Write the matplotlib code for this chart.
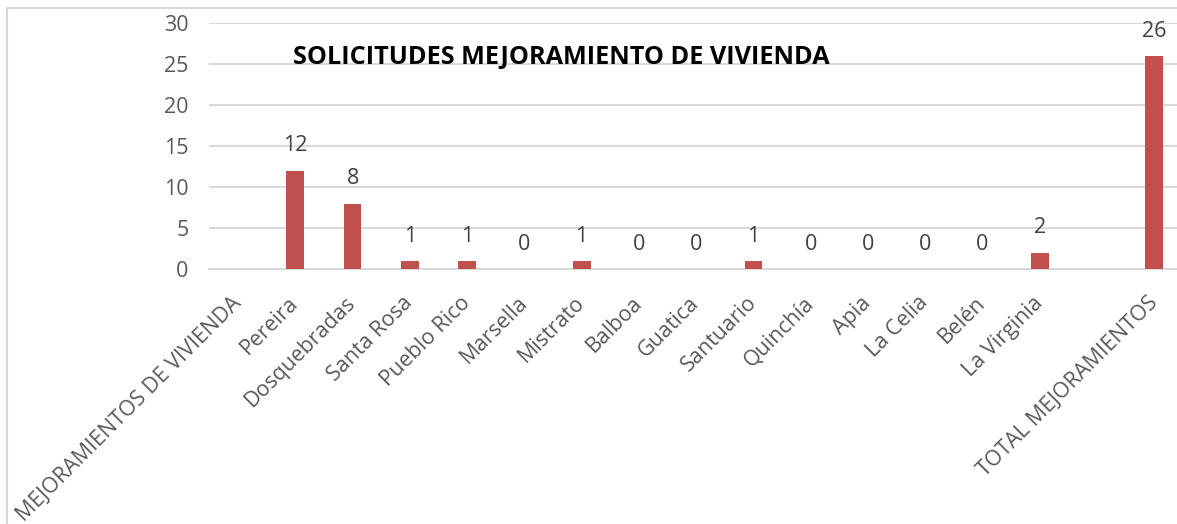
import matplotlib
matplotlib.use("Agg")
import matplotlib.pyplot as plt
import numpy as np

categories = ["MEJORAMIENTOS DE VIVIENDA", "Pereira", "Dosquebradas", "Santa Rosa",
              "Pueblo Rico", "Marsella", "Mistrato", "Balboa", "Guatica", "Santuario",
              "Quinchía", "Apia", "La Celia", "Belén", "La Virginia", "",
              "TOTAL MEJORAMIENTOS"]
values = [None, 12, 8, 1, 1, 0, 1, 0, 0, 1, 0, 0, 0, 0, 2, None, 26]
title = "SOLICITUDES MEJORAMIENTO DE VIVIENDA"
yticks = [0, 5, 10, 15, 20, 25, 30]

plt.rcParams['font.family'] = ['Open Sans', 'DejaVu Sans']

W, H = 1177, 524
fig = plt.figure(figsize=(W / 100, H / 100), dpi=100)
ax = fig.add_axes([209.4 / W, (H - 269.3) / H, (1183 - 209.4) / W, (269.3 - 23.3) / H])

x = np.arange(len(categories))
bars_x = [xi for xi, v in zip(x, values) if v is not None]
bars_v = [v for v in values if v is not None]
ax.bar(bars_x, bars_v, width=0.31, color="#C0504D", zorder=3)
for xi, v in zip(bars_x, bars_v):
    ax.annotate(str(v), (xi, v), xytext=(0, 25), textcoords="offset pixels",
                ha="center", va="center", fontsize=15.5, color="#404040")

ax.set_xlim(-0.5, len(categories) - 0.5)
ax.set_ylim(0, 30)
ax.set_yticks(yticks)
ax.set_yticklabels([str(t) for t in yticks], fontsize=15.5, color="#595959")
ax.yaxis.grid(True, color="#d9d9d9", linewidth=1.5, zorder=0)
ax.set_axisbelow(True)
for s in ["top", "right", "left"]:
    ax.spines[s].set_visible(False)
ax.spines["bottom"].set_color("#d9d9d9")
ax.spines["bottom"].set_linewidth(1.5)
ax.tick_params(axis="y", length=0, pad=15)
ax.tick_params(axis="x", length=0, pad=22)
ax.set_xticks(x)
ax.set_xticklabels(categories, rotation=45, ha="right", va="center",
                   rotation_mode="anchor", fontsize=15.5, color="#595959")

fig.text(293 / W, 1 - 57 / H, title, ha="left", va="center",
         fontsize=18.2, fontweight="bold", color="black")

# chart area border
fig.add_artist(plt.Line2D([7 / W, 1], [1 - 8 / H, 1 - 8 / H], color="#d9d9d9", lw=1.5,
                          transform=fig.transFigure))
fig.add_artist(plt.Line2D([7 / W, 7 / W], [0, 1 - 8 / H], color="#d9d9d9", lw=1.5,
                          transform=fig.transFigure))

fig.savefig("out.png", dpi=100)
